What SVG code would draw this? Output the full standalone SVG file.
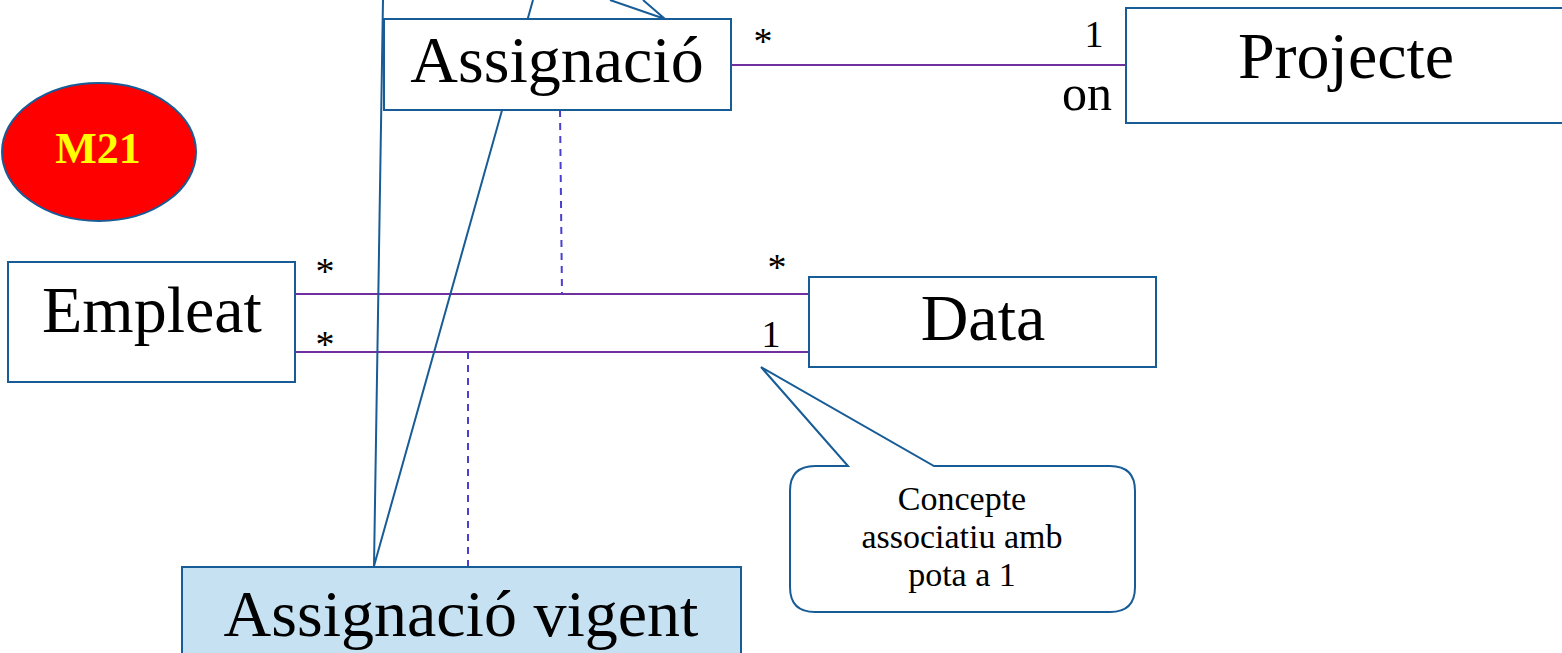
<svg xmlns="http://www.w3.org/2000/svg" width="1562" height="653" viewBox="0 0 1562 653">
<style>
.box{fill:#ffffff;stroke:#175C96;stroke-width:2}
.lbl{font-family:"Liberation Serif","Times New Roman",serif;font-size:66px;fill:#000;text-anchor:middle}
.mult{font-family:"Liberation Serif","Times New Roman",serif;font-size:38px;fill:#000;text-anchor:middle}
.assoc{stroke:#7030A0;stroke-width:2;fill:none}
.dash{stroke:#4A3FD0;stroke-width:2;stroke-dasharray:7,6;fill:none}
.call{fill:#ffffff;stroke:#175C96;stroke-width:2}
.callline{stroke:#175C96;stroke-width:2;fill:none}
.ctext{font-family:"Liberation Serif","Times New Roman",serif;font-size:34px;fill:#000;text-anchor:middle}
</style>
<rect width="1562" height="653" fill="#ffffff"/>
<g id="connectors">
<line class="assoc" x1="731" y1="65" x2="1126" y2="65"/>
<line class="assoc" x1="295" y1="294" x2="809" y2="294"/>
<line class="assoc" x1="295" y1="352" x2="809" y2="352"/>
<line class="dash" x1="560" y1="110" x2="562" y2="294"/>
<line class="dash" x1="468" y1="352" x2="468" y2="567"/>
<text class="mult" x="763" y="54">*</text>
<text class="mult" x="1094" y="47">1</text>
<text class="mult" x="1087" y="110" style="font-size:50px">on</text>
<text class="mult" x="325" y="284">*</text>
<text class="mult" x="325" y="357">*</text>
<text class="mult" x="777" y="280">*</text>
<text class="mult" x="771" y="347">1</text>
</g>
<g id="callout-top-pointers">
<polyline class="callline" points="610,0 665,19 643,0"/>
<polyline class="callline" points="383,0 374,566 533,0"/>
</g>
<g id="node-m21">
<ellipse cx="99" cy="152" rx="97" ry="69" fill="#FF0000" stroke="#175C96" stroke-width="2"/>
<text x="98" y="163" style="font-family:'Liberation Serif','Times New Roman',serif;font-size:44px;font-weight:bold;fill:#FFFF00;text-anchor:middle">M21</text>
</g>
<g id="node-assignacio">
<rect class="box" x="384" y="19" width="347" height="91"/>
<text class="lbl" x="557" y="82">Assignació</text>
</g>
<g id="node-projecte">
<rect class="box" x="1126" y="8" width="446" height="115"/>
<text class="lbl" x="1346" y="78">Projecte</text>
</g>
<g id="node-empleat">
<rect class="box" x="8" y="262" width="287" height="120"/>
<text class="lbl" x="152" y="332">Empleat</text>
</g>
<g id="node-data">
<rect class="box" x="809" y="277" width="347" height="90"/>
<text class="lbl" x="983" y="340">Data</text>
</g>
<g id="node-assignacio-vigent">
<rect x="182" y="567" width="559" height="100" fill="#C5E1F2" stroke="#175C96" stroke-width="2"/>
<text class="lbl" x="461" y="636">Assignació vigent</text>
</g>
<g id="node-callout">
<path class="call" d="M815,466 L848,466 L761,367 L934,466 L1110,466 Q1135,466 1135,491 L1135,587 Q1135,612 1110,612 L815,612 Q790,612 790,587 L790,491 Q790,466 815,466 Z"/>
<text class="ctext" x="962" y="510">Concepte</text>
<text class="ctext" x="962" y="548">associatiu amb</text>
<text class="ctext" x="962" y="586">pota a 1</text>
</g>
</svg>
